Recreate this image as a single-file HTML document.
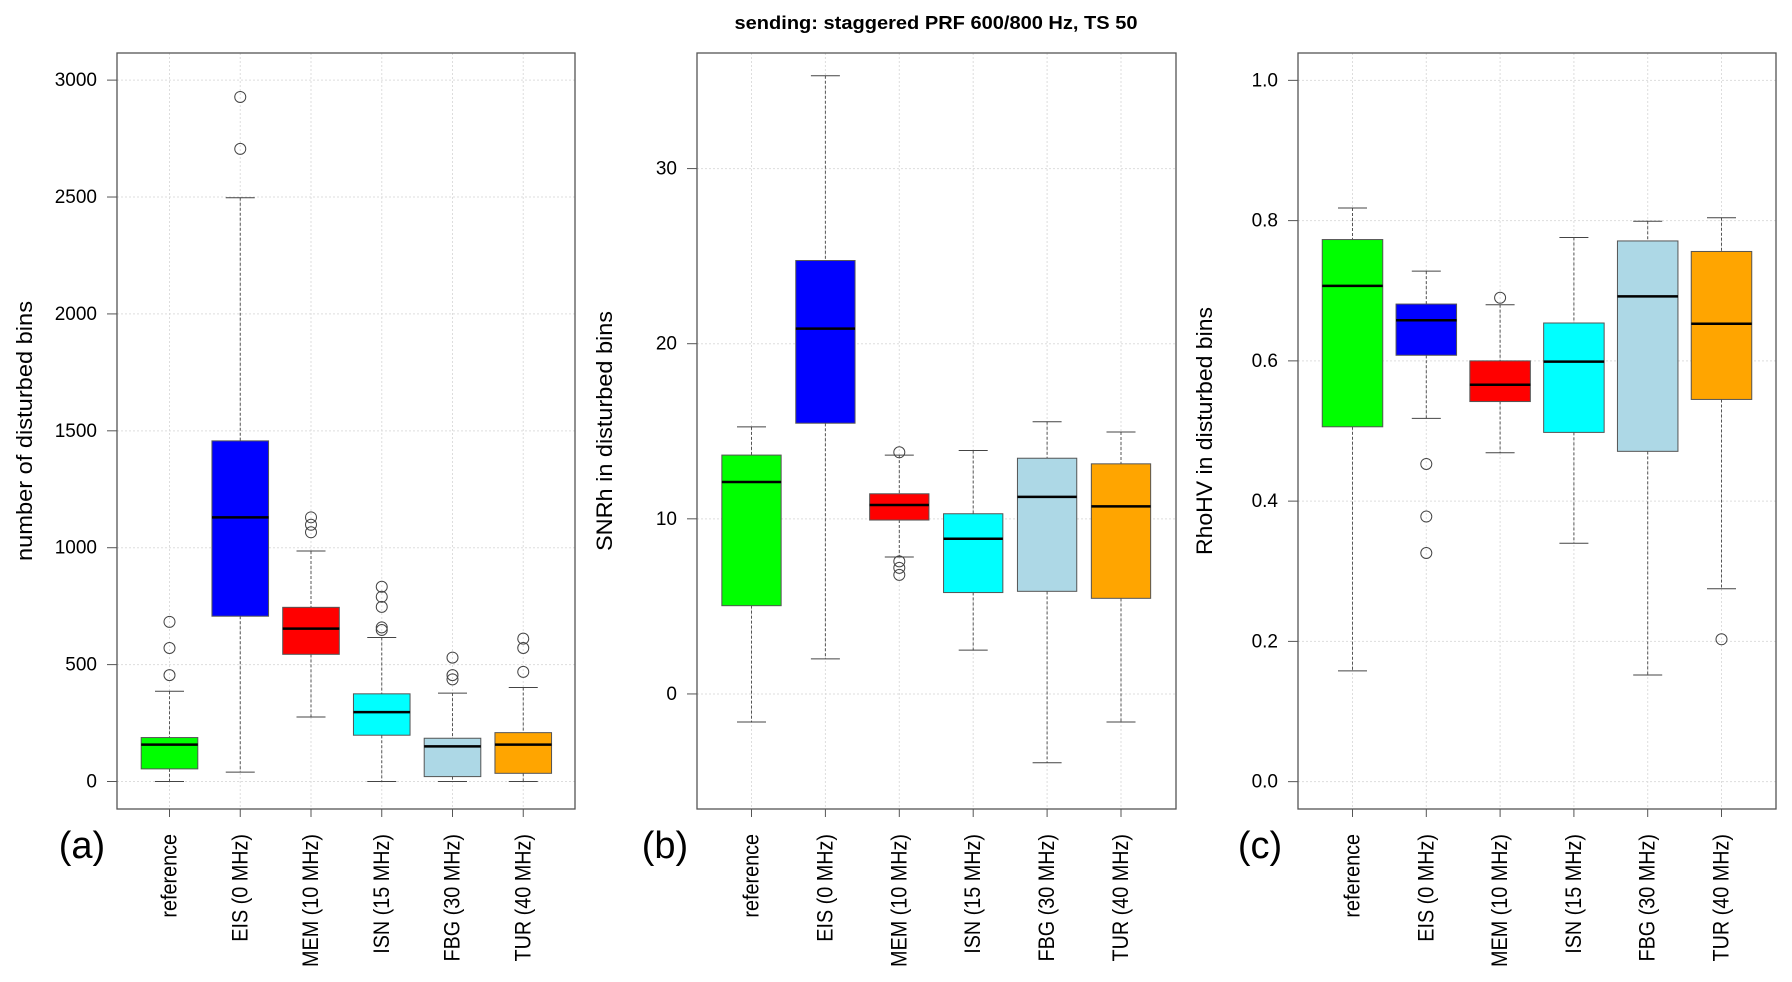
<!DOCTYPE html>
<html><head><meta charset="utf-8"><style>
html,body{margin:0;padding:0;background:#fff;}
svg{display:block;font-family:"Liberation Sans",sans-serif;}
</style></head><body>
<svg id="chart" width="1792" height="982" viewBox="0 0 1792 982">
<text x="936" y="29" text-anchor="middle" font-weight="bold" font-size="18" textLength="403" lengthAdjust="spacingAndGlyphs">sending: staggered PRF 600/800 Hz, TS 50</text>
</svg>
<script>
const categories = ["reference","EIS (0 MHz)","MEM (10 MHz)","ISN (15 MHz)","FBG (30 MHz)","TUR (40 MHz)"];
const colors = ["#00ff00","#0000ff","#ff0000","#00ffff","#add8e6","#ffa500"];
// panel a: number of disturbed bins
const aLow = [0,40,276,0,0,0];
const aQ1 = [54,707,544,198,21,35];
const aMed = [158,1130,654,297,150,158];
const aQ3 = [188,1457,745,375,185,209];
const aHigh = [386,2497,986,616,378,402];
const aOut = [[683,571,455],[2928,2706],[1130,1098,1066],[833,790,747,659,648],[530,455,437],[611,571,469]];
const aTicks = [0,500,1000,1500,2000,2500,3000];
// panel b: SNRh
const bLow = [-1.6,2.0,7.82,2.5,-3.93,-1.6];
const bQ1 = [5.04,15.46,9.93,5.79,5.86,5.46];
const bMed = [12.1,20.86,10.79,8.86,11.25,10.71];
const bQ3 = [13.64,24.75,11.43,10.29,13.46,13.14];
const bHigh = [15.25,35.3,13.64,13.9,15.54,14.96];
const bOut = [[],[],[13.8,7.57,7.2,6.8],[],[],[]];
const bTicks = [0,10,20,30];
// panel c: RhoHV
const cLow = [0.158,0.518,0.469,0.340,0.152,0.275];
const cQ1 = [0.506,0.608,0.542,0.498,0.471,0.545];
const cMed = [0.707,0.658,0.566,0.599,0.692,0.653];
const cQ3 = [0.773,0.681,0.600,0.654,0.771,0.756];
const cHigh = [0.818,0.728,0.680,0.776,0.799,0.804];
const cOut = [[],[0.453,0.378,0.326],[0.69],[],[],[0.203]];
const cTicks = [0.0,0.2,0.4,0.6,0.8,1.0];

const NS="http://www.w3.org/2000/svg";
const svg=document.getElementById('chart');
function mk(tag,attrs,parent){const e=document.createElementNS(NS,tag);for(const k in attrs)e.setAttribute(k,attrs[k]);(parent||svg).appendChild(e);return e;}

function panel(cfg){
  const g=mk('g',{});
  
  
  const top=53,bot=809;
  const y=v=>bot-(v-cfg.ymin)/(cfg.ymax-cfg.ymin)*(bot-top);
  const x=i=>cfg.x0+i*cfg.step;
  cfg.ticks.forEach(t=>{const l=mk('line',{x1:cfg.left,x2:cfg.right,y1:y(t),y2:y(t),stroke:'#dddddd','stroke-dasharray':'2,2','stroke-width':1},g);
    
    });
  categories.forEach((c,i)=>{const l=mk('line',{x1:x(i),x2:x(i),y1:top,y2:bot,stroke:'#dddddd','stroke-dasharray':'2,2','stroke-width':1},g);
    
    });
  categories.forEach((c,i)=>{
    const bg=mk('g',{},g);
    
    
    const cx=x(i),hw=cfg.bw/2,cw=14.5;
    mk('line',{x1:cx,x2:cx,y1:y(cfg.high[i]),y2:y(cfg.q3[i]),stroke:'#555','stroke-dasharray':'3,2','stroke-width':1},bg);
    mk('line',{x1:cx,x2:cx,y1:y(cfg.q1[i]),y2:y(cfg.low[i]),stroke:'#555','stroke-dasharray':'3,2','stroke-width':1},bg);
    mk('line',{x1:cx-cw,x2:cx+cw,y1:y(cfg.high[i]),y2:y(cfg.high[i]),stroke:'#444','stroke-width':1},bg);
    mk('line',{x1:cx-cw,x2:cx+cw,y1:y(cfg.low[i]),y2:y(cfg.low[i]),stroke:'#444','stroke-width':1},bg);
    mk('rect',{x:cx-hw,y:y(cfg.q3[i]),width:cfg.bw,height:y(cfg.q1[i])-y(cfg.q3[i]),fill:colors[i],stroke:'#555','stroke-width':1},bg);
    mk('line',{x1:cx-hw,x2:cx+hw,y1:y(cfg.med[i]),y2:y(cfg.med[i]),stroke:'#000','stroke-width':2.5},bg);
    cfg.out[i].forEach(o=>{const ci=mk('circle',{cx:cx,cy:y(o),r:5.5,fill:'none',stroke:'#444','stroke-width':1},bg);
      
      });
    mk('line',{x1:cx,x2:cx,y1:bot,y2:bot+8,stroke:'#555','stroke-width':1},g);
    const t=mk('text',{x:0,y:0,'text-anchor':'end','font-size':22,transform:`translate(${cx+7},834) rotate(-90) scale(0.9,1)`},g);
    t.textContent=c;
    
    
  });
  cfg.ticks.forEach(tk=>{
    mk('line',{x1:cfg.left-10,x2:cfg.left,y1:y(tk),y2:y(tk),stroke:'#555','stroke-width':1},g);
    const t=mk('text',{x:cfg.left-20,y:y(tk)+6,'text-anchor':'end','font-size':19},g);
    t.textContent=cfg.fmt(tk);
    
    
  });
  const fr=mk('rect',{x:cfg.left,y:top,width:cfg.right-cfg.left,height:bot-top,fill:'none',stroke:'#555','stroke-width':1.3},g);
  
  
  const yt=mk('text',{x:0,y:0,'text-anchor':'middle','font-size':22,transform:`translate(${cfg.ytx},${cfg.yty}) rotate(-90)`,textLength:cfg.ytl,lengthAdjust:'spacingAndGlyphs'},g);
  yt.textContent=cfg.ytitle;
  
  
  const pl=mk('text',{x:cfg.plx,y:858,'text-anchor':'middle','font-size':38},g);
  pl.textContent=cfg.plabel;
  
  
}
panel({name:'panel-a',left:117,right:575,x0:169.5,step:70.75,bw:56.6,ymin:-117.6,ymax:3116,
  low:aLow,q1:aQ1,med:aMed,q3:aQ3,high:aHigh,out:aOut,ticks:aTicks,fmt:v=>String(v),
  ytitle:'number of disturbed bins',ytx:32,yty:431,ytl:260,plabel:'(a)',plx:82});
panel({name:'panel-b',left:697,right:1176,x0:751.5,step:73.9,bw:59.3,ymin:-6.57,ymax:36.6,
  low:bLow,q1:bQ1,med:bMed,q3:bQ3,high:bHigh,out:bOut,ticks:bTicks,fmt:v=>String(v),
  ytitle:'SNRh in disturbed bins',ytx:612,yty:431,ytl:240,plabel:'(b)',plx:665});
panel({name:'panel-c',left:1298,right:1776,x0:1352.5,step:73.8,bw:60.5,ymin:-0.039,ymax:1.039,
  low:cLow,q1:cQ1,med:cMed,q3:cQ3,high:cHigh,out:cOut,ticks:cTicks,fmt:v=>v.toFixed(1),
  ytitle:'RhoHV in disturbed bins',ytx:1212,yty:431,ytl:248,plabel:'(c)',plx:1260});
</script>
</body></html>
